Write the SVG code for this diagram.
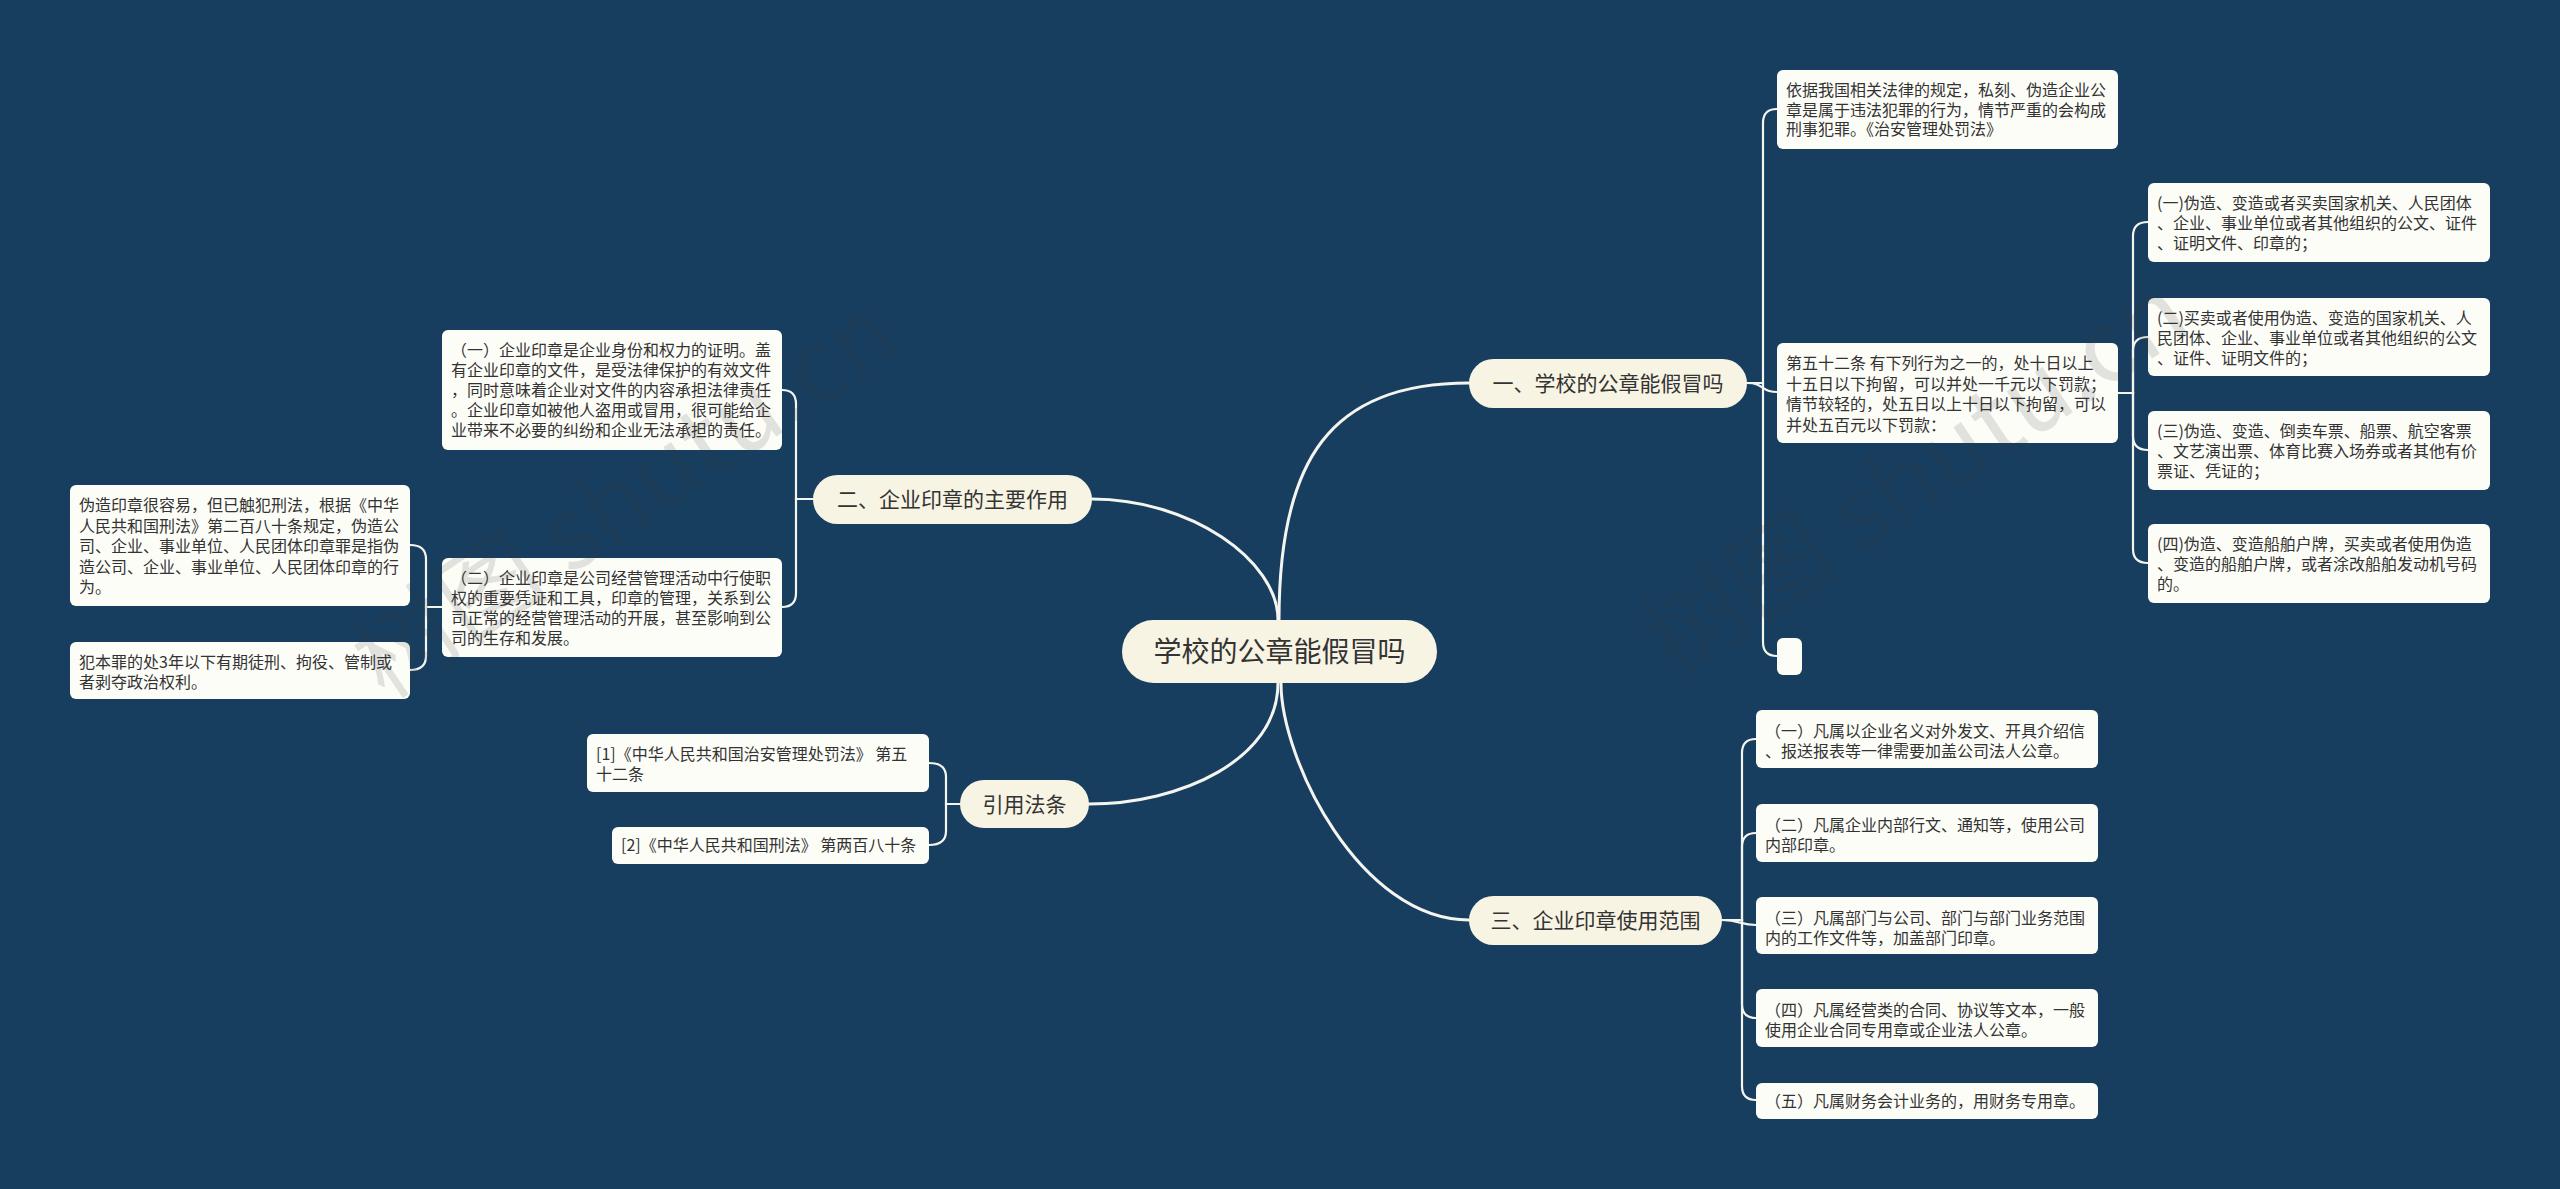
<svg xmlns="http://www.w3.org/2000/svg" width="2560" height="1189" viewBox="0 0 2560 1189">
<style>
.bg{fill:#183e5f}
.main{fill:none;stroke:#f5f5f0;stroke-width:3;stroke-linecap:round}
.sub{fill:none;stroke:#f5f5f0;stroke-width:2.2;stroke-linecap:round}
.pill{fill:#f8f4e3}
.leaf{fill:#fdfdf8}
.t{font-family:"Noto Sans CJK SC","Liberation Sans",sans-serif;fill:#333333}
.root{font-size:28px;text-anchor:middle}
.br{font-size:21px;text-anchor:middle}
.lf{font-size:16px}
.wm{font-family:"Noto Sans CJK SC","Liberation Sans",sans-serif;font-size:100px;fill:#3c3c3c;fill-opacity:0.14}
</style>
<rect class="bg" x="0" y="0" width="2560" height="1189"/>

<g id="connectors">
<path class="main" d="M1279,620 C1279,460 1330,383 1469,383"/>
<path class="main" d="M1278,620 C1278,560 1190,499 1092,499"/>
<path class="main" d="M1278,683 C1278,760 1180,804 1089,804"/>
<path class="main" d="M1281,683 C1281,760 1360,920 1469,920"/>
<path class="sub" d="M1747,383 H1763 V123 Q1763,109 1777,109"/>
<path class="sub" d="M1747,383 C1765,383 1760,392 1777,392"/>
<path class="sub" d="M1747,383 H1763 V642 Q1763,656 1777,656"/>
<path class="sub" d="M2118,393 H2133 V236 Q2133,222 2148,222"/>
<path class="sub" d="M2118,393 H2133 V351 Q2133,337 2148,337"/>
<path class="sub" d="M2118,393 H2133 V436 Q2133,450 2148,450"/>
<path class="sub" d="M2118,393 H2133 V549 Q2133,563 2148,563"/>
<path class="sub" d="M1722,920 H1742 V753 Q1742,739 1756,739"/>
<path class="sub" d="M1722,920 H1742 V847 Q1742,833 1756,833"/>
<path class="sub" d="M1722,920 C1740,920 1740,925 1756,925"/>
<path class="sub" d="M1722,920 H1742 V1004 Q1742,1018 1756,1018"/>
<path class="sub" d="M1722,920 H1742 V1086 Q1742,1100 1756,1100"/>
<path class="sub" d="M813,499 H796 V404 Q796,390 782,390"/>
<path class="sub" d="M813,499 H796 V593 Q796,607 782,607"/>
<path class="sub" d="M442,607 H426 V559 Q426,545 410,545"/>
<path class="sub" d="M442,607 H426 V656 Q426,670 410,670"/>
<path class="sub" d="M960,804 H946 V777 Q946,763 929,763"/>
<path class="sub" d="M960,804 H946 V831 Q946,845 929,845"/>
</g>

<g id="root">
<rect class="pill" x="1122" y="620" width="315" height="63" rx="31.5"/>
<text class="t root" x="1279.5" y="661.5">学校的公章能假冒吗</text>
</g>

<g id="branch1">
<rect class="pill" x="1469" y="359" width="278" height="49" rx="24.5"/>
<text class="t br" x="1608" y="391">一、学校的公章能假冒吗</text>
</g>
<g id="branch2">
<rect class="pill" x="813" y="475" width="279" height="49" rx="24.5"/>
<text class="t br" x="952.5" y="507">二、企业印章的主要作用</text>
</g>
<g id="branch-cite">
<rect class="pill" x="960" y="780" width="129" height="48" rx="24"/>
<text class="t br" x="1024.5" y="811.5">引用法条</text>
</g>
<g id="branch3">
<rect class="pill" x="1469" y="896" width="253" height="49" rx="24.5"/>
<text class="t br" x="1595.5" y="928">三、企业印章使用范围</text>
</g>

<g id="leaf-a">
<rect class="leaf" x="1777" y="70" width="341" height="79" rx="6"/>
<text class="t lf" x="1786" y="96"><tspan x="1786" dy="0">依据我国相关法律的规定，私刻、伪造企业公</tspan><tspan x="1786" dy="19.5">章是属于违法犯罪的行为，情节严重的会构成</tspan><tspan x="1786" dy="19.5">刑事犯罪。《治安管理处罚法》</tspan></text>
</g>
<g id="leaf-b">
<rect class="leaf" x="1777" y="343" width="341" height="100" rx="6"/>
<text class="t lf" x="1786" y="369"><tspan x="1786" dy="0">第五十二条 有下列行为之一的，处十日以上</tspan><tspan x="1786" dy="20.5">十五日以下拘留，可以并处一千元以下罚款；</tspan><tspan x="1786" dy="20.5">情节较轻的，处五日以上十日以下拘留，可以</tspan><tspan x="1786" dy="20.5">并处五百元以下罚款：</tspan></text>
</g>
<g id="leaf-empty">
<rect class="leaf" x="1777" y="638" width="25" height="37" rx="6"/>
</g>
<g id="sub-1">
<rect class="leaf" x="2148" y="183" width="342" height="79" rx="6"/>
<text class="t lf" x="2157" y="209"><tspan x="2157" dy="0">(一)伪造、变造或者买卖国家机关、人民团体</tspan><tspan x="2157" dy="20">、企业、事业单位或者其他组织的公文、证件</tspan><tspan x="2157" dy="20">、证明文件、印章的；</tspan></text>
</g>
<g id="sub-2">
<rect class="leaf" x="2148" y="298" width="342" height="78" rx="6"/>
<text class="t lf" x="2157" y="324"><tspan x="2157" dy="0">(二)买卖或者使用伪造、变造的国家机关、人</tspan><tspan x="2157" dy="20">民团体、企业、事业单位或者其他组织的公文</tspan><tspan x="2157" dy="20">、证件、证明文件的；</tspan></text>
</g>
<g id="sub-3">
<rect class="leaf" x="2148" y="411" width="342" height="79" rx="6"/>
<text class="t lf" x="2157" y="437"><tspan x="2157" dy="0">(三)伪造、变造、倒卖车票、船票、航空客票</tspan><tspan x="2157" dy="20">、文艺演出票、体育比赛入场券或者其他有价</tspan><tspan x="2157" dy="20">票证、凭证的；</tspan></text>
</g>
<g id="sub-4">
<rect class="leaf" x="2148" y="524" width="342" height="79" rx="6"/>
<text class="t lf" x="2157" y="550"><tspan x="2157" dy="0">(四)伪造、变造船舶户牌，买卖或者使用伪造</tspan><tspan x="2157" dy="20">、变造的船舶户牌，或者涂改船舶发动机号码</tspan><tspan x="2157" dy="20">的。</tspan></text>
</g>

<g id="use-1">
<rect class="leaf" x="1756" y="710" width="342" height="58" rx="6"/>
<text class="t lf" x="1765" y="737"><tspan x="1765" dy="0">（一）凡属以企业名义对外发文、开具介绍信</tspan><tspan x="1765" dy="20">、报送报表等一律需要加盖公司法人公章。</tspan></text>
</g>
<g id="use-2">
<rect class="leaf" x="1756" y="804" width="342" height="58" rx="6"/>
<text class="t lf" x="1765" y="831"><tspan x="1765" dy="0">（二）凡属企业内部行文、通知等，使用公司</tspan><tspan x="1765" dy="20">内部印章。</tspan></text>
</g>
<g id="use-3">
<rect class="leaf" x="1756" y="897" width="342" height="57" rx="6"/>
<text class="t lf" x="1765" y="924"><tspan x="1765" dy="0">（三）凡属部门与公司、部门与部门业务范围</tspan><tspan x="1765" dy="20">内的工作文件等，加盖部门印章。</tspan></text>
</g>
<g id="use-4">
<rect class="leaf" x="1756" y="989" width="342" height="58" rx="6"/>
<text class="t lf" x="1765" y="1016"><tspan x="1765" dy="0">（四）凡属经营类的合同、协议等文本，一般</tspan><tspan x="1765" dy="20">使用企业合同专用章或企业法人公章。</tspan></text>
</g>
<g id="use-5">
<rect class="leaf" x="1756" y="1083" width="342" height="36" rx="6"/>
<text class="t lf" x="1765" y="1107">（五）凡属财务会计业务的，用财务专用章。</text>
</g>

<g id="role-1">
<rect class="leaf" x="442" y="330" width="340" height="120" rx="6"/>
<text class="t lf" x="451" y="356"><tspan x="451" dy="0">（一）企业印章是企业身份和权力的证明。盖</tspan><tspan x="451" dy="20">有企业印章的文件，是受法律保护的有效文件</tspan><tspan x="451" dy="20">，同时意味着企业对文件的内容承担法律责任</tspan><tspan x="451" dy="20">。企业印章如被他人盗用或冒用，很可能给企</tspan><tspan x="451" dy="20">业带来不必要的纠纷和企业无法承担的责任。</tspan></text>
</g>
<g id="role-2">
<rect class="leaf" x="442" y="558" width="340" height="99" rx="6"/>
<text class="t lf" x="451" y="584"><tspan x="451" dy="0">（二）企业印章是公司经营管理活动中行使职</tspan><tspan x="451" dy="20">权的重要凭证和工具，印章的管理，关系到公</tspan><tspan x="451" dy="20">司正常的经营管理活动的开展，甚至影响到公</tspan><tspan x="451" dy="20">司的生存和发展。</tspan></text>
</g>
<g id="law-1">
<rect class="leaf" x="70" y="485" width="340" height="121" rx="6"/>
<text class="t lf" x="79" y="511"><tspan x="79" dy="0">伪造印章很容易，但已触犯刑法，根据《中华</tspan><tspan x="79" dy="20.5">人民共和国刑法》第二百八十条规定，伪造公</tspan><tspan x="79" dy="20.5">司、企业、事业单位、人民团体印章罪是指伪</tspan><tspan x="79" dy="20.5">造公司、企业、事业单位、人民团体印章的行</tspan><tspan x="79" dy="20.5">为。</tspan></text>
</g>
<g id="law-2">
<rect class="leaf" x="70" y="642" width="340" height="57" rx="6"/>
<text class="t lf" x="79" y="668"><tspan x="79" dy="0">犯本罪的处3年以下有期徒刑、拘役、管制或</tspan><tspan x="79" dy="20">者剥夺政治权利。</tspan></text>
</g>

<g id="cite-1">
<rect class="leaf" x="587" y="734" width="342" height="58" rx="6"/>
<text class="t lf" x="596" y="760"><tspan x="596" dy="0">[1]《中华人民共和国治安管理处罚法》 第五</tspan><tspan x="596" dy="20">十二条</tspan></text>
</g>
<g id="cite-2">
<rect class="leaf" x="612" y="827" width="317" height="37" rx="6"/>
<text class="t lf" x="621" y="851">[2]《中华人民共和国刑法》 第两百八十条</text>
</g>

<text class="wm" transform="translate(645,525) rotate(-34)" text-anchor="middle">树图 shutu.cn</text>
<text class="wm" transform="translate(1935,505) rotate(-34)" text-anchor="middle">树图 shutu.cn</text>
</svg>
